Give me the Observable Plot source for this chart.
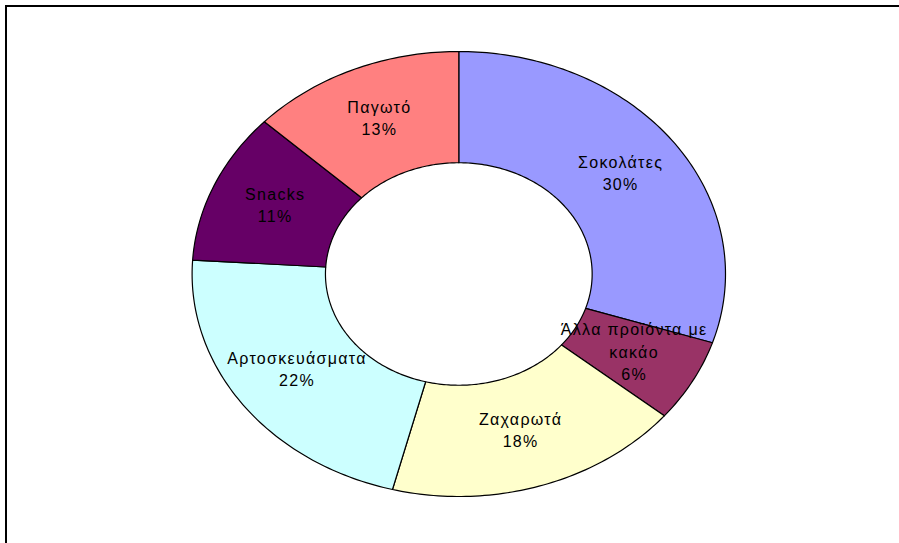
<!DOCTYPE html>
<html>
<head>
<meta charset="utf-8">
<script src="https://cdn.jsdelivr.net/npm/d3@7"></script>
<script src="https://cdn.jsdelivr.net/npm/@observablehq/plot@0.6"></script>
<style>
  html, body { margin: 0; padding: 0; background: #fff; overflow: hidden; }
  #wrap { position: relative; width: 899px; height: 543px; overflow: hidden; }
  #frame { position: absolute; left: 5px; top: 5px; width: 2000px; height: 2000px; border: 2px solid #000; pointer-events: none; box-sizing: border-box; }
  #chart text { letter-spacing: 1.3px; }
</style>
</head>
<body>
<div id="wrap"><div id="chart"></div><div id="frame"></div></div>
<script>
// Data (clockwise from 12 o'clock)
const categories = ["Σοκολάτες", "Άλλα προϊόντα με\nκακάο", "Ζαχαρωτά", "Αρτοσκευάσματα", "Snacks", "Παγωτό"];
const values = [30, 6, 18, 22, 11, 13];
const colors = ["#9999FF", "#993366", "#FFFFCC", "#CCFFFF", "#660066", "#FF8080"];

const innerRatio = 0.5;
const labelRadius = 0.75;
const total = d3.sum(values);

// Build slice polygons (angles measured clockwise from top)
const polyPoints = [];
const labels = [];
let cum = 0;
categories.forEach((cat, i) => {
  const a0 = (cum / total) * 2 * Math.PI;
  cum += values[i];
  const a1 = (cum / total) * 2 * Math.PI;
  const n = Math.max(8, Math.ceil((a1 - a0) / (Math.PI / 180)));
  const pts = [];
  for (let k = 0; k <= n; k++) {
    const a = a0 + (a1 - a0) * k / n;
    pts.push({x: Math.sin(a), y: Math.cos(a)});
  }
  for (let k = n; k >= 0; k--) {
    const a = a0 + (a1 - a0) * k / n;
    pts.push({x: innerRatio * Math.sin(a), y: innerRatio * Math.cos(a)});
  }
  pts.forEach(p => polyPoints.push({...p, cat, color: colors[i]}));
  const am = (a0 + a1) / 2;
  labels.push({
    x: labelRadius * Math.sin(am),
    y: labelRadius * Math.cos(am),
    text: `${cat}\n${Math.round(values[i] / total * 100)}%`
  });
});

const cx = 458.3, cy = 273.5, rx = 266.7, ry = 222.5;

const chart = Plot.plot({
  width: 899,
  height: 543,
  margin: 0,
  x: {domain: [-1, 1], range: [cx - rx, cx + rx], axis: null},
  y: {domain: [-1, 1], range: [cy + ry, cy - ry], axis: null},
  style: {background: "transparent"},
  marks: [
    Plot.line(polyPoints, {
      x: "x", y: "y", z: "cat",
      fill: "color", stroke: "#000", strokeWidth: 1.2,
      curve: "linear-closed"
    }),
    Plot.text(labels, {
      x: "x", y: "y", text: "text", dy: -4,
      fontSize: 16, fontFamily: "Liberation Sans, Arial, sans-serif",
      fill: "#000", lineHeight: 1.4, textAnchor: "middle"
    })
  ]
});
document.getElementById("chart").appendChild(chart);
</script>
</body>
</html>
